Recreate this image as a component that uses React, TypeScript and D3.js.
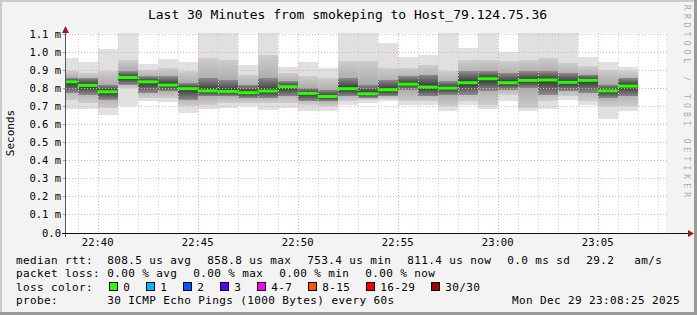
import React from "react";
import * as d3 from "d3";

// ---- data (milliseconds) ----
const medianMs = [0.833, 0.813, 0.778, 0.857, 0.833, 0.815, 0.795, 0.783, 0.780, 0.773, 0.782, 0.806, 0.769, 0.752, 0.795, 0.767, 0.789, 0.820, 0.804, 0.798, 0.828, 0.850, 0.828, 0.841, 0.843, 0.830, 0.841, 0.783, 0.809];
const smokeMax = [0.964, 0.942, 1.014, 1.15, 0.931, 0.959, 0.942, 1.12, 1.12, 0.927, 1.11, 0.914, 0.942, 0.909, 1.11, 1.11, 1.047, 0.970, 0.982, 1.12, 1.019, 1.11, 0.997, 1.12, 1.11, 1.12, 0.970, 0.942, 0.914];
const smokeMin = [0.682, 0.682, 0.649, 0.697, 0.725, 0.721, 0.660, 0.682, 0.686, 0.697, 0.679, 0.688, 0.673, 0.670, 0.703, 0.715, 0.725, 0.706, 0.706, 0.673, 0.703, 0.684, 0.728, 0.670, 0.684, 0.734, 0.703, 0.629, 0.670];
const smokeMidHi = [0.894, 0.881, 0.890, 0.955, 0.900, 0.909, 0.890, 0.964, 0.955, 0.872, 0.982, 0.881, 0.863, 0.854, 0.946, 0.946, 0.909, 0.909, 0.927, 0.890, 0.955, 0.955, 0.946, 0.955, 0.964, 0.937, 0.918, 0.900, 0.890];
const smokeMidLo = [0.734, 0.715, 0.688, 0.798, 0.743, 0.743, 0.697, 0.706, 0.715, 0.715, 0.715, 0.715, 0.706, 0.697, 0.725, 0.734, 0.739, 0.725, 0.725, 0.697, 0.725, 0.706, 0.761, 0.688, 0.725, 0.752, 0.725, 0.697, 0.697];
const smokeInHi = [0.854, 0.854, 0.817, 0.890, 0.863, 0.863, 0.826, 0.854, 0.844, 0.817, 0.854, 0.835, 0.798, 0.789, 0.854, 0.817, 0.844, 0.863, 0.872, 0.835, 0.890, 0.890, 0.881, 0.890, 0.890, 0.881, 0.872, 0.817, 0.854];
const smokeInLo = [0.771, 0.761, 0.734, 0.817, 0.771, 0.780, 0.734, 0.752, 0.752, 0.743, 0.743, 0.752, 0.728, 0.725, 0.752, 0.743, 0.752, 0.789, 0.752, 0.761, 0.761, 0.780, 0.789, 0.798, 0.761, 0.780, 0.771, 0.743, 0.752];

const yTicks = [0, 0.1, 0.2, 0.3, 0.4, 0.5, 0.6, 0.7, 0.8, 0.9, 1.0, 1.1];
const title = "Last 30 Minutes from smokeping to Host_79.124.75.36";
const statsRow = ["808.5 us avg", "858.8 us max", "753.4 us min", "811.4 us now", "0.0 ms sd", "29.2", "am/s"];
const lossRow = ["0.00 % avg", "0.00 % max", "0.00 % min", "0.00 % now"];
const lossLabels = ["0", "1", "2", "3", "4-7", "8-15", "16-29", "30/30"];
const lossColors = ["#26ff00", "#00b8ff", "#0059ff", "#5e00ff", "#ff00ff", "#ff5500", "#ff0000", "#a00000"];
const probeText = "30 ICMP Echo Pings (1000 Bytes) every 60s";
const dateText = "Mon Dec 29 23:08:25 2025";

const W = 697, H = 315;
const FONT = "'DejaVu Sans Mono', monospace";

export default function App() {
  const start = new Date(2025, 11, 29, 22, 38, 25);
  const end = new Date(2025, 11, 29, 23, 8, 25);
  const firstBar = new Date(2025, 11, 29, 22, 38, 0);
  const x = d3.scaleTime().domain([start, end]).range([66, 666]);
  const y = d3.scaleLinear().domain([0, 1.1]).range([232.5, 33.5]);
  const left = 66, right = 666, top = 33, bottom = 233;

  const minutes = d3.timeMinute.range(d3.timeMinute.ceil(start), end);
  const bars = medianMs.map((m, i) => {
    const t0 = d3.timeMinute.offset(firstBar, i);
    const t1 = d3.timeMinute.offset(firstBar, i + 1);
    const x0 = Math.max(x(t0), left);
    const x1 = x(t1);
    return { i, x0, x1, m };
  });
  const fmt = d3.timeFormat("%H:%M");
  const cw = 7; // char advance

  let lx = 108.7;
  const lossItems = lossLabels.map((lab, i) => {
    const item = { bx: lx, tx: lx + 14.6, lab, c: lossColors[i] };
    lx = lx + 14.6 + lab.length * cw + 15.4;
    return item;
  });

  const statX: number[] = [];
  let sx = 107.3;
  statsRow.forEach((s) => { statX.push(sx); sx += s.length * cw + 16; });
  statX[6] = statX[5] + 48;

  const textStyle = { fontFamily: FONT, fontSize: 11, letterSpacing: 0.38, fill: "#000" } as any;

  // split band [hi, lo] at median into an upper part (fade toward median) and lower part
  const band = (b: any, hi: number, lo: number, upId: string, downId: string) => {
    const yHi = y(hi), yLo = y(lo), yM = y(b.m);
    const parts = [] as any[];
    if (yM > yHi) parts.push(<rect key="u" x={b.x0} width={b.x1 - b.x0} y={yHi} height={Math.min(yM, yLo) - yHi} fill={`url(#${upId})`} />);
    if (yLo > yM) parts.push(<rect key="d" x={b.x0} width={b.x1 - b.x0} y={Math.max(yM, yHi)} height={yLo - Math.max(yM, yHi)} fill={`url(#${downId})`} />);
    return parts;
  };

  return (
    <div style={{ position: "fixed", left: 0, top: 0 }}>
      <svg width={W} height={H} xmlns="http://www.w3.org/2000/svg" style={{ display: "block" }}>
        <defs>
          <clipPath id="canvas">
            <rect x={left} y={top} width={right - left} height={bottom - top} />
          </clipPath>
          <linearGradient id="midUp" x1="0" y1="0" x2="0" y2="1">
            <stop offset="0" stopColor="#cdcdcd" />
            <stop offset="1" stopColor="#9c9c9c" />
          </linearGradient>
          <linearGradient id="midDown" x1="0" y1="0" x2="0" y2="1">
            <stop offset="0" stopColor="#9c9c9c" />
            <stop offset="1" stopColor="#cdcdcd" />
          </linearGradient>
          <linearGradient id="inUp" x1="0" y1="0" x2="0" y2="1">
            <stop offset="0" stopColor="#8c8c8c" />
            <stop offset="1" stopColor="#333333" />
          </linearGradient>
          <linearGradient id="inDown" x1="0" y1="0" x2="0" y2="1">
            <stop offset="0" stopColor="#333333" />
            <stop offset="1" stopColor="#8c8c8c" />
          </linearGradient>
        </defs>
        <rect x={0} y={0} width={W} height={H} fill="#f3f3f3" />
        {/* frame shading */}
        <rect x={0} y={0} width={W} height={2} fill="#cbcbcb" />
        <rect x={0} y={0} width={2} height={H} fill="#cbcbcb" />
        <rect x={W - 3} y={0} width={3} height={H} fill="#9a9a9a" />
        <rect x={0} y={H - 3} width={W} height={3} fill="#9a9a9a" />

        <text x={347.5} y={18.5} textAnchor="middle"
          style={{ fontFamily: FONT, fontSize: 13, fill: "#000" }}>{title}</text>

        <rect x={left} y={top} width={right - left} height={bottom - top} fill="#ffffff" />

        {/* smoke */}
        <g clipPath="url(#canvas)" shapeRendering="crispEdges">
          {bars.map((b) => (
            <g key={b.i}>
              <rect x={b.x0} width={b.x1 - b.x0} y={y(smokeMax[b.i])} height={y(smokeMin[b.i]) - y(smokeMax[b.i])} fill="#e0e0e0" />
              {band(b, smokeMidHi[b.i], smokeMidLo[b.i], "midUp", "midDown")}
              {band(b, smokeInHi[b.i], smokeInLo[b.i], "inUp", "inDown")}
            </g>
          ))}
        </g>

        {/* grid */}
        <g shapeRendering="crispEdges">
          {minutes.map((t) => {
            const major = t.getMinutes() % 5 === 0;
            const xx = Math.round(x(t)) + 0.5;
            return (
              <line key={+t} x1={xx} x2={xx} y1={top} y2={bottom} stroke={major ? "#e8a8a8" : "#cfcfcf"}
                strokeDasharray="1,2" strokeWidth={1} />
            );
          })}
          {yTicks.filter((v) => v > 0).map((v) => {
            const yy = Math.round(y(v)) + 0.5;
            return (
              <g key={v}>
                <line x1={left} x2={right + 2} y1={yy} y2={yy} stroke="#e8a8a8" strokeDasharray="1,2" />
                <line x1={left - 3} x2={left} y1={yy} y2={yy} stroke="#999" />
              </g>
            );
          })}
        </g>

        {/* median */}
        <g clipPath="url(#canvas)">
          {bars.map((b) => (
            <line key={b.i} x1={b.x0} x2={b.x1} y1={y(b.m)} y2={y(b.m)} stroke="#26ff00" strokeWidth={3} />
          ))}
        </g>

        {/* axes */}
        <g shapeRendering="crispEdges">
          <line x1={left - 0.5} x2={left - 0.5} y1={bottom + 4} y2={30} stroke="#555" />
          <line x1={left - 4} x2={689} y1={bottom + 0.5} y2={bottom + 0.5} stroke="#111" />
        </g>
        <path d={`M${left - 4},${33} L${left - 0.5},${26} L${left + 3},${33} Z`} fill="#9b1c1c" />
        <path d={`M${688},${bottom - 3} L${694},${bottom + 0.5} L${688},${bottom + 4} Z`} fill="#9b1c1c" />

        {/* y labels */}
        {yTicks.map((v) => (
          <text key={v} x={61} y={y(v) + 4} textAnchor="end"
            style={{ fontFamily: FONT, fontSize: 10.5, fill: "#000" }}>
            {v === 0 ? "0.0" : `${v.toFixed(1)} m`}
          </text>
        ))}
        <text transform={`translate(14,133) rotate(-90)`} textAnchor="middle"
          style={{ fontFamily: FONT, fontSize: 11, fill: "#000" }}>Seconds</text>

        {/* x labels */}
        {minutes.filter((t) => t.getMinutes() % 5 === 0).map((t) => (
          <text key={+t} x={x(t)} y={246} textAnchor="middle"
            style={{ fontFamily: FONT, fontSize: 10.5, fill: "#000" }}>{fmt(t)}</text>
        ))}

        {/* watermark */}
        <text transform={`translate(684,5) rotate(90)`} textLength={192} lengthAdjust="spacing"
          style={{ fontFamily: FONT, fontSize: 8, fill: "#aaaaaa" }}>RRDTOOL / TOBI OETIKER</text>

        {/* legend */}
        <text x={16} y={263.5} style={textStyle}>median rtt:</text>
        {statsRow.map((s, i) => (
          <text key={i} x={statX[i]} y={263.5} style={textStyle}>{s}</text>
        ))}
        <text x={16} y={277} style={textStyle}>packet loss:</text>
        {lossRow.map((s, i) => (
          <text key={i} x={107.3 + i * 86} y={277} style={textStyle}>{s}</text>
        ))}
        <text x={16} y={290.5} style={textStyle}>loss color:</text>
        {lossItems.map((it, i) => (
          <g key={i}>
            <rect x={Math.round(it.bx) + 0.5} y={282.5} width={8} height={8} fill={it.c} stroke="#000" strokeWidth={1} />
            <text x={it.tx} y={290.5} style={textStyle}>{it.lab}</text>
          </g>
        ))}
        <text x={16} y={304} style={textStyle}>probe:</text>
        <text x={107.3} y={304} style={textStyle}>{probeText}</text>
        <text x={680} y={304} textAnchor="end" style={textStyle}>{dateText}</text>
      </svg>
    </div>
  );
}
